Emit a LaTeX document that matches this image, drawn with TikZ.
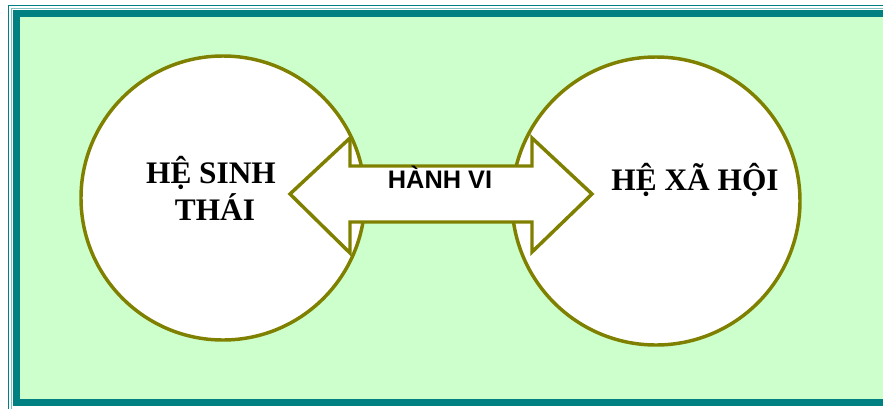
\documentclass[tikz,border=0pt]{standalone}
\usepackage{fontspec}
\setmainfont{Liberation Serif}
\newfontfamily\arialfont{Liberation Sans}
\definecolor{khung}{HTML}{008080}
\definecolor{nen}{HTML}{CCFFCC}
\definecolor{vien}{HTML}{808000}
\begin{document}
\begin{tikzpicture}[x=0.75pt, y=-0.75pt, line join=miter,
  he/.style={draw=vien, fill=white, line width=2.6pt},
  chu/.style={font=\fontsize{23.5}{27}\selectfont\bfseries, anchor=base, inner sep=0pt}]
  \useasboundingbox (0,0) rectangle (883,408);

  % Frame
  \fill[nen] (16.5,13.5) rectangle (895,402.5);
  \draw[khung, line width=1.1pt] (8.5,5.5) rectangle (900,415);
  \draw[khung!50, line width=0.75pt] (11.5,8.5) rectangle (900,409);
  \draw[khung, line width=5.25pt] (16.5,13.5) rectangle (895,402.5);

  % Circles
  \node[he, circle, minimum size=213pt, inner sep=0pt] (sinhthai) at (223,198) {};
  \node[he, circle, minimum size=216pt, inner sep=0pt] (xahoi) at (656,201) {};

  % Double arrow
  \coordinate (L) at (290,194);
  \coordinate (R) at (592,194);
  \fill[white] (350,166) rectangle (532,222);
  \draw[vien, line width=2.6pt] (L) -- (350,138) -- (350,166) -- (532,166) -- (532,138)
    -- (R) -- (532,252) -- (532,222) -- (350,222) -- (350,253) -- cycle;

  % Labels
  \node[chu] (sinhthaiA) at (211,183) {HỆ SINH};
  \node[chu] (sinhthaiB) at (215,220) {THÁI};
  \node[chu] (xahoiA) at (695,190) {HỆ XÃ HỘI};
  \node[anchor=base, inner sep=0pt, font=\arialfont\fontsize{19}{21}\selectfont\bfseries]
    (hanhvi) at (440,188) {HÀNH VI};
\end{tikzpicture}
\end{document}
